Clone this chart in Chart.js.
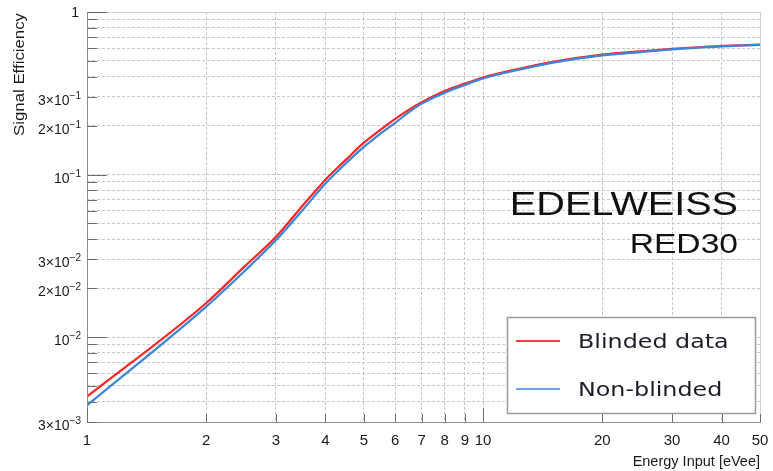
<!DOCTYPE html>
<html>
<head>
<meta charset="utf-8">
<script src="https://cdn.jsdelivr.net/npm/chart.js@4/dist/chart.umd.min.js"></script>
<style>
  html, body { margin: 0; padding: 0; background: #fff; overflow: hidden; }
  #wrap { width: 773px; height: 471px; position: relative; }
</style>
</head>
<body>
<div id="wrap"><canvas id="c" width="773" height="471"></canvas></div>
<script>
// Energy input [eVee]
const energy = [1, 2, 2.5, 3, 3.5, 4, 4.5, 5, 5.5, 6, 6.5, 7, 8, 9, 10, 12, 15, 20, 25, 30, 35, 40, 45, 50];
// Signal efficiency, blinded data
const blinded = [0.0043, 0.0162, 0.0272, 0.0414, 0.0642, 0.093, 0.123, 0.157, 0.188, 0.220, 0.251, 0.279, 0.327, 0.363, 0.395, 0.441, 0.494, 0.547, 0.573, 0.593, 0.607, 0.618, 0.624, 0.629];
// Signal efficiency, non-blinded data
const nonBlinded = [0.0038, 0.0154, 0.0255, 0.0395, 0.0603, 0.088, 0.117, 0.148, 0.178, 0.208, 0.242, 0.273, 0.319, 0.356, 0.390, 0.435, 0.488, 0.541, 0.567, 0.589, 0.603, 0.615, 0.622, 0.627];

// Grid and tick values
const xGridValues = [1, 2, 3, 4, 5, 6, 7, 8, 9, 10, 20, 30, 40, 50];
const xLabelValues = [1, 2, 3, 4, 5, 6, 7, 8, 9, 10, 20, 30, 40, 50];
const yGridValues = [0.003, 0.004, 0.005, 0.006, 0.007, 0.008, 0.009, 0.01, 0.02, 0.03, 0.04, 0.05, 0.06, 0.07, 0.08, 0.09, 0.1, 0.2, 0.3, 0.4, 0.5, 0.6, 0.7, 0.8, 0.9, 1];
const yLabelValues = [1, 0.3, 0.2, 0.1, 0.03, 0.02, 0.01, 0.003];

const xTitle = 'Energy Input [eVee]';
const yTitle = 'Signal Efficiency';
const experiment = 'EDELWEISS';
const detector = 'RED30';

const SANS = '"Liberation Sans", Arial, sans-serif';
const LEG = '"DejaVu Sans", Verdana, sans-serif';

const isDecade = v => Math.abs(Math.log10(v) - Math.round(Math.log10(v))) < 1e-6;

// Split a value into mantissa and exponent for "3×10⁻²" style labels
function sciParts(v) {
  const e = Math.floor(Math.log10(v) + 1e-9);
  const m = Math.round(v / Math.pow(10, e));
  return { m, e };
}

const decorations = {
  id: 'decorations',
  afterDatasetsDraw(chart) {
    const { ctx, chartArea: a, scales: { x, y } } = chart;
    ctx.save();
    // frame
    ctx.lineWidth = 1;
    ctx.strokeStyle = '#cfcfcf';
    ctx.beginPath();
    ctx.moveTo(a.left, Math.round(a.top) + 0.5);
    ctx.lineTo(a.right, Math.round(a.top) + 0.5);
    ctx.moveTo(Math.round(a.right) + 0.5, a.top);
    ctx.lineTo(Math.round(a.right) + 0.5, a.bottom);
    ctx.stroke();
    ctx.strokeStyle = '#8c8c8c';
    ctx.beginPath();
    ctx.moveTo(Math.round(a.left) + 0.5, a.top);
    ctx.lineTo(Math.round(a.left) + 0.5, a.bottom);
    ctx.moveTo(a.left, Math.round(a.bottom) + 0.5);
    ctx.lineTo(a.right + 1, Math.round(a.bottom) + 0.5);
    ctx.stroke();

    // inward tick marks
    ctx.strokeStyle = '#6e6e6e';
    ctx.beginPath();
    yGridValues.forEach(v => {
      const py = Math.round(y.getPixelForValue(v)) + 0.5;
      const len = isDecade(v) ? 20 : 10;
      ctx.moveTo(a.left, py);
      ctx.lineTo(a.left + len, py);
    });
    xGridValues.forEach(v => {
      const px = Math.round(x.getPixelForValue(v)) + 0.5;
      const len = isDecade(v) ? 14 : 8;
      ctx.moveTo(px, a.bottom);
      ctx.lineTo(px, a.bottom - len);
    });
    ctx.stroke();
    ctx.restore();
  },
  afterDraw(chart) {
    const { ctx, chartArea: a, scales: { x, y } } = chart;
    ctx.save();
    ctx.fillStyle = '#1a1a1a';

    // y tick labels with superscript exponents
    yLabelValues.forEach(v => {
      const py = y.getPixelForValue(v);
      const right = a.left - 6;
      const { m, e } = sciParts(v);
      ctx.textAlign = 'right';
      ctx.textBaseline = 'alphabetic';
      if (e === 0) {
        ctx.font = '14px ' + SANS;
        ctx.fillText(String(m), right - 2, py + 5);
        return;
      }
      const sup = '\u2212' + Math.abs(e);
      ctx.font = '10px ' + SANS;
      const supW = ctx.measureText(sup).width;
      ctx.fillText(sup, right, py + 2);
      ctx.font = '14px ' + SANS;
      const base = (m > 1 ? m + '\u00d7' : '') + '10';
      ctx.fillText(base, right - supW, py + 8);
    });

    // x tick labels
    ctx.font = '15px ' + SANS;
    ctx.textAlign = 'center';
    ctx.textBaseline = 'alphabetic';
    xLabelValues.forEach(v => {
      ctx.fillText(String(v), x.getPixelForValue(v), a.bottom + 23);
    });

    // axis titles
    ctx.font = '14.5px ' + SANS;
    ctx.textAlign = 'right';
    ctx.fillText(xTitle, a.right, a.bottom + 44);

    ctx.save();
    ctx.translate(24, a.top + 1);
    ctx.rotate(-Math.PI / 2);
    ctx.scale(1.2, 1);
    ctx.font = '14px ' + SANS;
    ctx.textAlign = 'right';
    ctx.fillText(yTitle, 0, 0);
    ctx.restore();

    // experiment / detector caption
    ctx.fillStyle = '#111';
    ctx.save();
    ctx.translate(738, 215);
    ctx.scale(1.2, 1);
    ctx.font = '33px ' + SANS;
    ctx.textAlign = 'right';
    ctx.fillText(experiment, 0, 0);
    ctx.restore();
    ctx.save();
    ctx.translate(738, 253);
    ctx.scale(1.2, 1);
    ctx.font = '28px ' + SANS;
    ctx.textAlign = 'right';
    ctx.fillText(detector, 0, 0);
    ctx.restore();

    // legend box
    const bx = 507.5, by = 317.5, bw = 248, bh = 96;
    ctx.fillStyle = '#fff';
    ctx.fillRect(bx, by, bw, bh);
    ctx.strokeStyle = '#9a9a9a';
    ctx.lineWidth = 1.5;
    ctx.strokeRect(bx, by, bw, bh);
    const rows = [341, 389];
    chart.data.datasets.forEach(ds => {
      const ry = rows[ds.legendRow];
      ctx.strokeStyle = ds.legendColor;
      ctx.lineWidth = 2;
      ctx.beginPath();
      ctx.moveTo(516, ry);
      ctx.lineTo(560, ry);
      ctx.stroke();
      ctx.save();
      ctx.translate(578, ry + 7);
      ctx.scale(1.19, 1);
      ctx.font = '20px ' + LEG;
      ctx.textAlign = 'left';
      ctx.fillStyle = '#1c1c2a';
      ctx.fillText(ds.label, 0, 0);
      ctx.restore();
    });
    ctx.restore();
  }
};

const toPoints = vals => energy.map((e, i) => ({ x: e, y: vals[i] }));

new Chart(document.getElementById('c'), {
  type: 'line',
  data: {
    datasets: [
      {
        label: 'Non-blinded',
        data: toPoints(nonBlinded),
        borderColor: '#3a86db',
        legendColor: '#6ea6e2',
        legendRow: 1,
        borderWidth: 2.2,
        pointRadius: 0,
        cubicInterpolationMode: 'monotone',
        fill: false
      },
      {
        label: 'Blinded data',
        data: toPoints(blinded),
        borderColor: '#ff2424',
        legendColor: '#ff3a3a',
        legendRow: 0,
        borderWidth: 2.2,
        pointRadius: 0,
        cubicInterpolationMode: 'monotone',
        fill: false
      }
    ]
  },
  options: {
    responsive: false,
    animation: false,
    devicePixelRatio: 1,
    layout: { padding: { left: 87, right: 13, top: 12, bottom: 49 } },
    plugins: { legend: { display: false }, tooltip: { enabled: false } },
    scales: {
      x: {
        type: 'logarithmic',
        min: 1,
        max: 50,
        ticks: { display: false },
        grid: { drawTicks: false, color: '#c6c6c6', lineWidth: 1 },
        border: { display: false, dash: [3, 2] },
        afterBuildTicks: s => { s.ticks = xGridValues.map(v => ({ value: v })); }
      },
      y: {
        type: 'logarithmic',
        min: 0.003,
        max: 1,
        ticks: { display: false },
        grid: { drawTicks: false, color: '#c6c6c6', lineWidth: 1 },
        border: { display: false, dash: [3, 2] },
        afterBuildTicks: s => { s.ticks = yGridValues.map(v => ({ value: v })); }
      }
    }
  },
  plugins: [decorations]
});
</script>
</body>
</html>
